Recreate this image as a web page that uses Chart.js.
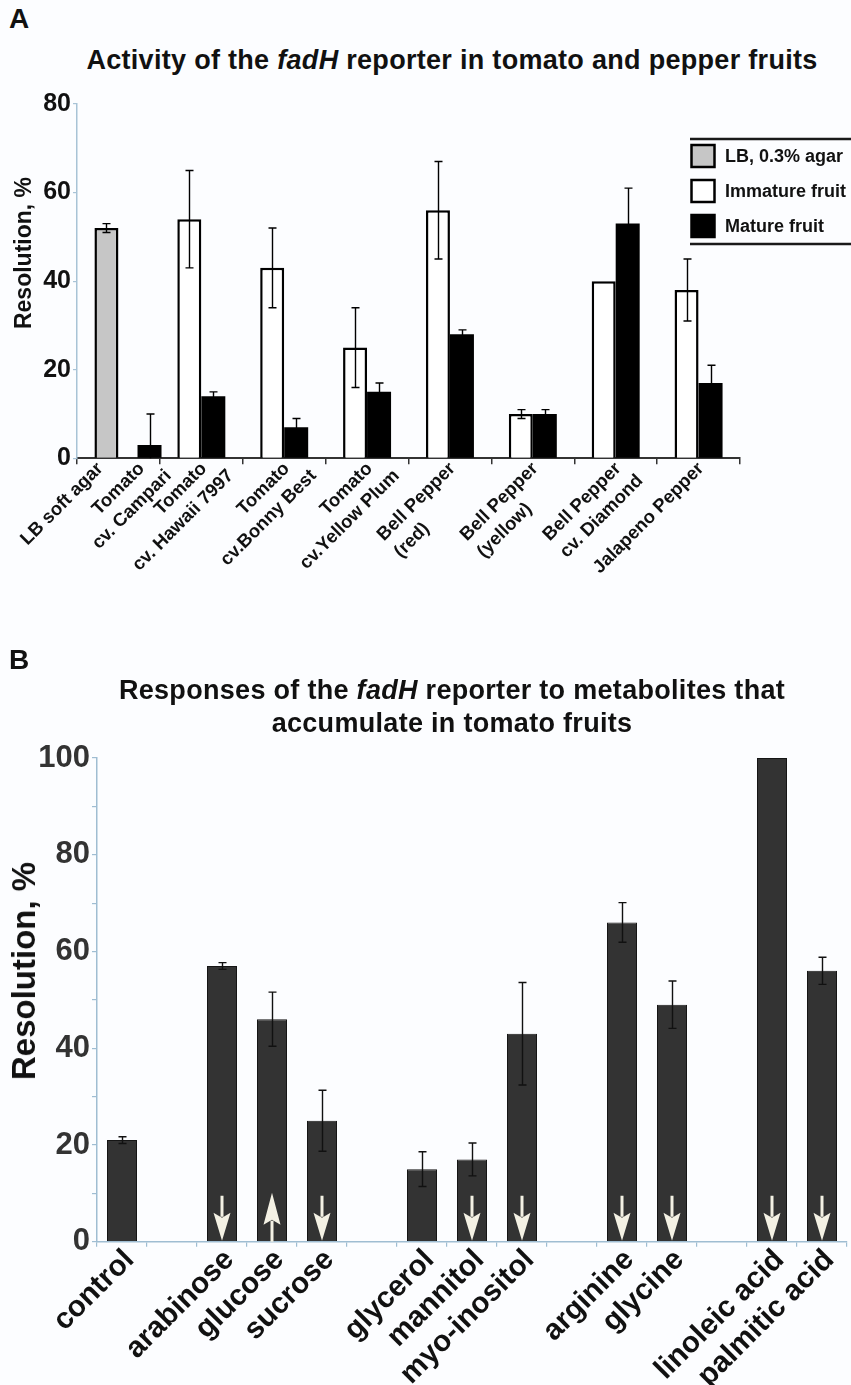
<!DOCTYPE html>
<html>
<head>
<meta charset="utf-8">
<script src="https://cdn.jsdelivr.net/npm/chart.js@4.4.1/dist/chart.umd.min.js"></script>
<style>
  html, body { margin: 0; padding: 0; background: #fcfdff; }
  body { width: 851px; height: 1385px; position: relative; overflow: hidden;
         font-family: "Liberation Sans", Arial, sans-serif; color: #111; }
  canvas { position: absolute; left: 0; }
  .t { position: absolute; white-space: nowrap; font-weight: bold; z-index: 2; }
  .panel { left: 9px; font-size: 28px; }
  .title { left: 0; width: 904px; text-align: center; font-size: 27px; letter-spacing: 0.3px; }
  .ytitle { transform: translate(-50%, -50%) rotate(-90deg); }
</style>
</head>
<body>
<canvas id="chartA" width="851" height="540" style="top:80px"></canvas>
<canvas id="chartB" width="851" height="645" style="top:740px"></canvas>

<div class="t panel" style="top:3px">A</div>
<div class="t title" style="top:45px">Activity of the <i>fadH</i> reporter in tomato and pepper fruits</div>
<div class="t ytitle" style="left:23px;top:253px;font-size:23px">Resolution, %</div>

<div class="t panel" style="top:644px">B</div>
<div class="t title" style="top:675px">Responses of the <i>fadH</i> reporter to metabolites that</div>
<div class="t title" style="top:708px">accumulate in tomato fruits</div>
<div class="t ytitle" style="left:24px;top:971px;font-size:33px">Resolution, %</div>

<script>
// ---------- Panel A: fruit samples (8 axis groups; the first group holds two samples) ----------
const categoriesA = [
  [['LB soft agar'], ['Tomato', 'cv. Campari']],
  [['Tomato', 'cv. Hawaii 7997']],
  [['Tomato', 'cv.Bonny Best']],
  [['Tomato', 'cv.Yellow Plum']],
  [['Bell Pepper', '(red)']],
  [['Bell Pepper', '(yellow)']],
  [['Bell Pepper', 'cv. Diamond']],
  [['Jalapeno Pepper']]
];
// how the lines of each sample name line up (in the order the names appear)
const labelAlignA = ['right', 'right', 'right', 'right', 'right', 'left', 'left', 'left', 'right'];
const lbAgar        = [52, null, null, null, null, null, null, null];
const lbAgarErr     = [1, null, null, null, null, null, null, null];
const immature      = [null, 54, 43, 25, 56, 10, 40, 38];
const immatureErr   = [null, 11, 9, 9, 11, 1, null, 7];
const mature        = [null, 14, 7, 15, 28, 10, 53, 17];
const matureErr     = [null, 1, 2, 2, 1, 1, 8, 4];
const campariMature    = [3, null, null, null, null, null, null, null];
const campariMatureErr = [7, null, null, null, null, null, null, null];
const ticksA = [0, 20, 40, 60, 80];

// ---------- Panel B: metabolites (empty slots separate the compound classes) ----------
const metabolites = ['control', '', 'arabinose', 'glucose', 'sucrose', '', 'glycerol', 'mannitol',
                     'myo-inositol', '', 'arginine', 'glycine', '', 'linoleic acid', 'palmitic acid'];
const resolutionB = [21, null, 57, 46, 25, null, 15, 17, 43, null, 66, 49, null, 100, 56];
const resolutionBErr = [0.7, null, 0.7, 5.6, 6.3, null, 3.6, 3.4, 10.6, null, 4.1, 4.9, null, null, 2.8];
const responseArrows = [null, null, 'down', 'up', 'down', null, null, 'down', 'down', null, 'down', 'down', null, 'down', 'down'];
const ticksB = [0, 20, 40, 60, 80, 100];

// ---------- shared drawing helpers ----------
const errorBarPlugin = {
  id: 'errorBars',
  afterDatasetsDraw(chart, args, opts) {
    const { ctx } = chart;
    const y = chart.scales.y;
    ctx.save();
    ctx.strokeStyle = opts.color;
    ctx.lineWidth = opts.width;
    chart.data.datasets.forEach((ds, di) => {
      if (!ds.errorBars) return;
      const meta = chart.getDatasetMeta(di);
      ds.data.forEach((v, i) => {
        const e = ds.errorBars[i];
        if (v == null || e == null) return;
        const x = Math.round(meta.data[i].x) + 0.5;
        const yTop = y.getPixelForValue(v + e);
        const low = v - e;
        const yBot = y.getPixelForValue(Math.max(low, y.min));
        ctx.beginPath();
        ctx.moveTo(x, yTop); ctx.lineTo(x, yBot);
        ctx.moveTo(x - opts.cap, yTop); ctx.lineTo(x + opts.cap, yTop);
        if (low > y.min) { ctx.moveTo(x - opts.cap, yBot); ctx.lineTo(x + opts.cap, yBot); }
        ctx.stroke();
      });
    });
    ctx.restore();
  }
};

// slanted category names; the first line ends at the anchor, later lines follow the alignment.
// A category holding several names splits its width into equal slots, one per name.
const categoryLabelPlugin = {
  id: 'categoryLabels',
  afterDraw(chart, args, opts) {
    const { ctx } = chart;
    const x = chart.scales.x;
    const slot = x.width / chart.data.labels.length;
    ctx.save();
    ctx.font = opts.font;
    ctx.fillStyle = opts.color;
    ctx.textBaseline = 'top';
    let n = 0;
    opts.groups.forEach((subLabels, i) => {
      if (!subLabels || !subLabels.length) return;
      const centre = x.getPixelForValue(i);
      const count = subLabels.length;
      subLabels.forEach((lines, k) => {
        const align = (opts.align && opts.align[n]) || 'right';
        n++;
        if (!lines || !lines.length) return;
        const ax = centre + (k + 0.5 - count / 2) * (slot / count);
        const w0 = ctx.measureText(lines[0]).width;
        ctx.save();
        ctx.translate(ax + opts.dx, x.top + opts.dy);
        ctx.rotate(-Math.PI / 4);
        lines.forEach((l, j) => {
          if (align === 'left') {
            ctx.textAlign = 'left';
            ctx.fillText(l, -w0, j * opts.lineHeight);
          } else {
            ctx.textAlign = 'right';
            ctx.fillText(l, j * (opts.lineShift || 0), j * opts.lineHeight);
          }
        });
        ctx.restore();
      });
    });
    ctx.restore();
  }
};

// legend with ruled top and bottom edges
const ruledLegendPlugin = {
  id: 'ruledLegend',
  afterDraw(chart, args, opts) {
    const { ctx } = chart;
    const seen = new Set();
    const items = [];
    chart.data.datasets.forEach(ds => {
      if (!seen.has(ds.label)) { seen.add(ds.label); items.push(ds); }
    });
    ctx.save();
    ctx.strokeStyle = '#1a1a1a';
    ctx.lineWidth = 2.6;
    ctx.beginPath();
    ctx.moveTo(opts.left, opts.top); ctx.lineTo(chart.width, opts.top);
    ctx.moveTo(opts.left, opts.bottom); ctx.lineTo(chart.width, opts.bottom);
    ctx.stroke();
    ctx.font = opts.font;
    ctx.textBaseline = 'middle';
    ctx.textAlign = 'left';
    items.forEach((ds, k) => {
      const cy = opts.firstRow + k * opts.rowGap;
      const sx = opts.left + 1.5, sw = opts.swatch - 3, sh = opts.swatchH;
      ctx.fillStyle = ds.backgroundColor;
      ctx.fillRect(sx, cy - sh / 2, sw, sh);
      ctx.lineWidth = 2.5;
      ctx.strokeStyle = '#000';
      ctx.strokeRect(sx, cy - sh / 2, sw, sh);
      ctx.fillStyle = '#111';
      ctx.fillText(ds.label, opts.left + opts.swatch + 9, cy + 1);
    });
    ctx.restore();
  }
};

const arrowPlugin = {
  id: 'responseArrows',
  afterDatasetsDraw(chart, args, opts) {
    const { ctx } = chart;
    const y = chart.scales.y;
    const meta = chart.getDatasetMeta(0);
    const base = y.getPixelForValue(0);
    ctx.save();
    ctx.fillStyle = opts.color;
    opts.directions.forEach((d, i) => {
      if (!d) return;
      const x = meta.data[i].x;
      const hw = opts.headWidth / 2;
      ctx.beginPath();
      if (d === 'down') {
        const tip = base - 1, headTop = base - opts.headLength, top = base - opts.length;
        ctx.rect(x - opts.shaft / 2, top, opts.shaft, headTop - top + 4);
        ctx.moveTo(x, tip);
        ctx.lineTo(x + hw, headTop);
        ctx.lineTo(x, headTop + 5);
        ctx.lineTo(x - hw, headTop);
        ctx.closePath();
      } else {
        const tip = base - opts.length - 3, headBot = tip + opts.headLength + 3;
        ctx.rect(x - opts.shaft / 2, headBot - 4, opts.shaft, base - headBot + 4);
        ctx.moveTo(x, tip);
        ctx.lineTo(x + hw, headBot);
        ctx.lineTo(x, headBot - 5);
        ctx.lineTo(x - hw, headBot);
        ctx.closePath();
      }
      ctx.fill();
    });
    ctx.restore();
  }
};

// ---------- Chart A ----------
const pairShare = 48 / 82.875;   // two adjacent 24px bars in each group
new Chart(document.getElementById('chartA'), {
  type: 'bar',
  data: {
    labels: categoriesA.map(g => g.map(l => l.join(' ')).join(' / ')),
    datasets: [
      { label: 'LB, 0.3% agar', data: lbAgar, errorBars: lbAgarErr,
        backgroundColor: '#c6c6c6', borderColor: '#000', borderWidth: 2.5,
        categoryPercentage: pairShare, barPercentage: 1 },
      { label: 'Immature fruit', data: immature, errorBars: immatureErr,
        backgroundColor: '#ffffff', borderColor: '#000', borderWidth: 2.5,
        categoryPercentage: pairShare, barPercentage: 1 },
      { label: 'Mature fruit', data: mature, errorBars: matureErr,
        backgroundColor: '#000000', borderColor: '#000', borderWidth: 0,
        categoryPercentage: pairShare, barPercentage: 1 },
      { label: 'Mature fruit', data: campariMature, errorBars: campariMatureErr,
        backgroundColor: '#000000', borderColor: '#000', borderWidth: 0,
        categoryPercentage: 1.5, barPercentage: 24 / 62.16 }
    ]
  },
  options: {
    responsive: false,
    animation: false,
    skipNull: true,
    layout: { padding: { top: 24, right: 111, left: 0, bottom: 0 } },
    plugins: {
      legend: { display: false },
      tooltip: { enabled: false },
      errorBars: { color: '#000', width: 1.4, cap: 4 },
      categoryLabels: { groups: categoriesA, align: labelAlignA,
                        font: 'bold 18.5px "Liberation Sans", Arial, sans-serif',
                        color: '#111', dx: -4, dy: 1, lineHeight: 24, lineShift: 14 },
      ruledLegend: { left: 690, top: 59, bottom: 164, firstRow: 76, rowGap: 35,
                     swatch: 26, swatchH: 22, font: 'bold 18px "Liberation Sans", Arial, sans-serif' }
    },
    scales: {
      x: {
        ticks: { display: false },
        grid: { offset: true, drawOnChartArea: false, tickLength: 6, color: '#333', lineWidth: 1.5 },
        border: { color: '#333', width: 2 },
        afterFit(s) { s.height = 161.7; }
      },
      y: {
        min: 0, max: 80,
        afterBuildTicks(s) { s.ticks = ticksA.map(v => ({ value: v })); },
        ticks: { color: '#111', padding: 2, font: { size: 25, weight: 'bold', lineHeight: 1,
                 family: '"Liberation Sans", Arial, sans-serif' } },
        grid: { drawOnChartArea: false, tickLength: 4, color: '#a8c3d6', lineWidth: 1.2 },
        border: { color: '#a8c3d6', width: 1.5 },
        afterFit(s) { s.width = 77; }
      }
    }
  },
  plugins: [errorBarPlugin, categoryLabelPlugin, ruledLegendPlugin]
});

// ---------- Chart B ----------
new Chart(document.getElementById('chartB'), {
  type: 'bar',
  data: {
    labels: metabolites,
    datasets: [
      { label: 'Resolution', data: resolutionB, errorBars: resolutionBErr,
        backgroundColor: '#333333', borderColor: '#151515', borderWidth: 1,
        categoryPercentage: 1, barPercentage: 0.6 }
    ]
  },
  options: {
    responsive: false,
    animation: false,
    layout: { padding: { top: 18, right: 4, left: 0, bottom: 0 } },
    plugins: {
      legend: { display: false },
      tooltip: { enabled: false },
      errorBars: { color: '#111', width: 1.4, cap: 4 },
      responseArrows: { directions: responseArrows, color: '#f4f1e4', length: 46,
                        headLength: 29, headWidth: 17, shaft: 3 },
      categoryLabels: { groups: metabolites.map(m => m ? [[m]] : []),
                        font: 'bold 29.5px "Liberation Sans", Arial, sans-serif',
                        color: '#111', dx: -3, dy: 3, lineHeight: 30 }
    },
    scales: {
      x: {
        ticks: { display: false },
        grid: { offset: true, drawOnChartArea: false, tickLength: 5, color: '#9fbdd2', lineWidth: 1.2 },
        border: { color: '#9fbdd2', width: 1.5 },
        afterFit(s) { s.height = 143.3; }
      },
      y: {
        min: 0, max: 100,
        ticks: { stepSize: 10, color: '#333', padding: 2,
                 callback: v => (ticksB.includes(v) ? v : ''),
                 font: { size: 31, weight: 'bold', lineHeight: 1,
                         family: '"Liberation Sans", Arial, sans-serif' } },
        grid: { drawOnChartArea: false, tickLength: 5, color: '#9fbdd2', lineWidth: 1.2 },
        border: { color: '#9fbdd2', width: 1.5 },
        afterFit(s) { s.width = 97; }
      }
    }
  },
  plugins: [errorBarPlugin, arrowPlugin, categoryLabelPlugin]
});
</script>
</body>
</html>
